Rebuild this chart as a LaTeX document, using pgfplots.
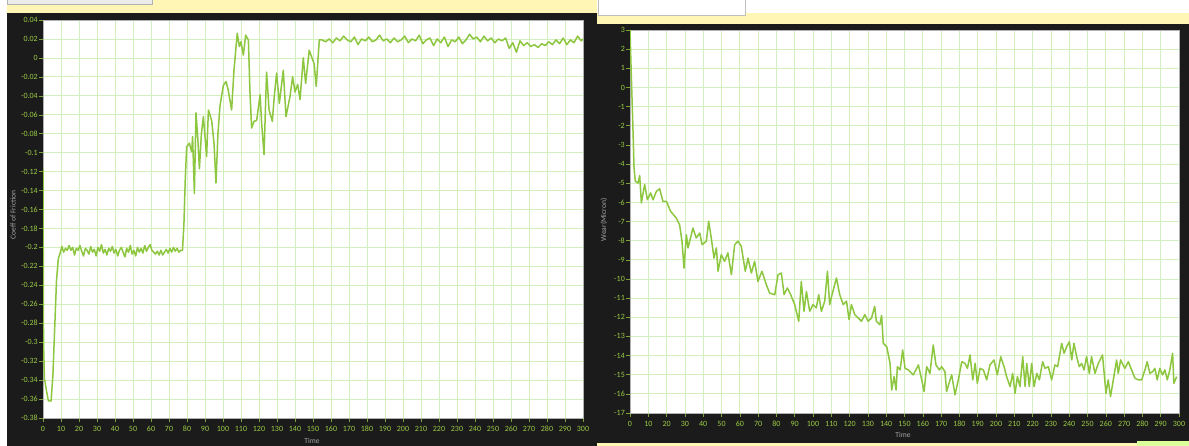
\documentclass[border=0pt]{standalone}
\usepackage{fontspec}
\setmainfont{Carlito}
\usepackage{pgfplots}
\pgfplotsset{compat=1.18}
\definecolor{darkbg}{HTML}{1B1B1B}
\definecolor{gridg}{HTML}{D3EFBD}
\definecolor{lineg}{HTML}{8DC63F}
\definecolor{labg}{HTML}{9BCB45}
\definecolor{pyellow}{HTML}{FFF6B6}
\pgfplotsset{
  panel/.style={
    scale only axis, anchor=north west,
    xmin=0, xmax=300,
    xtick={0,10,...,300},
    grid=major,
    major grid style={draw=gridg, line width=0.8pt},
    axis background/.style={fill=white},
    axis line style={draw=gray!60, line width=0.8pt},
    tick pos=left,
    tick align=outside, major tick length=4pt,
    tick style={draw=labg!80!black, line width=0.5pt},
    every tick label/.append style={text=labg, font=\fontsize{8}{9}\selectfont},
    yticklabel style={inner sep=1pt},
    xticklabel style={inner sep=1.5pt, text height=1.6ex, text depth=0pt},
    /pgf/number format/assume math mode=true,
  },
  wline/.style={draw=lineg, line width=1.5pt, line join=round, mark=none},
}
\begin{document}
\begin{tikzpicture}
% background decoration (y downward in px = pt)
\fill[white] (0pt,0pt) rectangle (1189pt,-446pt);
\fill[pyellow] (7pt,0pt) rectangle (597pt,-13pt);
\filldraw[fill=gray!15, draw=gray!60] (7pt,2pt) rectangle (152pt,-4pt);
\fill[pyellow] (597pt,-13pt) rectangle (1189pt,-24pt);
\filldraw[fill=white, draw=gray!50] (598pt,2pt) rectangle (745pt,-15pt);
\fill[darkbg] (7pt,-13pt) rectangle (597pt,-446pt);
\fill[darkbg] (597pt,-24pt) rectangle (1189pt,-443pt);
\fill[pyellow] (597pt,-443pt) rectangle (1189pt,-446pt);
\fill[green!35!yellow!40] (1137pt,-441pt) rectangle (1189pt,-446pt);

% left panel
\begin{axis}[panel, at={(43pt,-20pt)}, width=540pt, height=398pt,
  ymin=-0.38, ymax=0.04,
  ytick={-0.38,-0.36,-0.34,-0.32,-0.3,-0.28,-0.26,-0.24,-0.22,-0.2,-0.18,-0.16,-0.14,-0.12,-0.1,-0.08,-0.06,-0.04,-0.02,0,0.02,0.04},
  yticklabels={-0.38,-0.36,-0.34,-0.32,-0.3,-0.28,-0.26,-0.24,-0.22,-0.2,-0.18,-0.16,-0.14,-0.12,-0.1,-0.08,-0.06,-0.04,-0.02,0,0.02,0.04},
]
\addplot[wline] coordinates {
(0,-0.118) (0.3,-0.30) (0.8,-0.338) (2,-0.352) (3,-0.362) (4.5,-0.362) (5.5,-0.335) (6.5,-0.285) (7.5,-0.235)
(8.5,-0.212) (9.5,-0.206) (10.5,-0.199) (11.5,-0.205) (12.5,-0.201) (13.5,-0.203) (14.5,-0.198) (15.5,-0.203)
(16.5,-0.200) (17.5,-0.208) (18.5,-0.201) (19.5,-0.203) (20.5,-0.198) (21.5,-0.204) (22.5,-0.209) (23.5,-0.201)
(24.5,-0.203) (25.5,-0.207) (26.5,-0.199) (27.5,-0.205) (28.5,-0.202) (29.5,-0.209) (30.5,-0.200) (31.5,-0.204)
(32.5,-0.197) (33.5,-0.206) (34.5,-0.202) (35.5,-0.208) (36.5,-0.201) (37.5,-0.204) (38.5,-0.199) (39.5,-0.206)
(40.5,-0.202) (41.5,-0.209) (42.5,-0.203) (43.5,-0.200) (44.5,-0.205) (45.5,-0.210) (46.5,-0.201) (47.5,-0.205)
(48.5,-0.198) (49.5,-0.207) (50.5,-0.203) (51.5,-0.209) (52.5,-0.200) (53.5,-0.205) (54.5,-0.201) (55.5,-0.206)
(56.5,-0.198) (57.5,-0.204) (58.5,-0.200) (59.5,-0.197) (60.5,-0.203) (61.5,-0.205) (62.5,-0.207) (63.5,-0.204)
(64.5,-0.208) (65.5,-0.203) (66.5,-0.208) (67.5,-0.205) (68.5,-0.202) (69.5,-0.206) (70.5,-0.201) (71.5,-0.205)
(72.5,-0.200) (73.5,-0.204) (74.5,-0.201) (75.5,-0.205) (76.5,-0.203) (77.5,-0.203) (78.3,-0.175) (79,-0.13)
(79.8,-0.094) (81.3,-0.090) (82.6,-0.099) (83.1,-0.083) (84.1,-0.143) (85,-0.058) (86,-0.085) (86.9,-0.117)
(88,-0.080) (89.1,-0.062) (90.9,-0.104) (91.9,-0.055) (93.7,-0.066) (95,-0.090) (96.1,-0.132) (97.2,-0.080)
(98.3,-0.051) (100.2,-0.029) (101.7,-0.025) (102.9,-0.034) (104.8,-0.055) (106.1,-0.013) (107.9,0.026)
(109.1,0.012) (110,0.017) (111.3,0.003) (112.6,0.024) (114.1,0.019) (115,-0.037) (115.9,-0.074) (117.2,-0.067)
(118.7,-0.066) (120.6,-0.039) (121.5,-0.070) (122.8,-0.102) (124.2,-0.015) (125.6,-0.055) (127.4,-0.067)
(128.5,-0.040) (129.8,-0.016) (131.3,-0.048) (133.5,-0.013) (135,-0.062) (137.2,-0.041) (138.7,-0.020)
(140,-0.036) (141.5,-0.028) (142.8,-0.044) (144.6,0.000) (145.9,-0.027) (147.9,0.008) (150.6,-0.006)
(151.8,-0.030) (153.5,0.019)
(155,0.019) (157,0.017) (159,0.020) (161,0.016) (163,0.021) (165,0.018) (167,0.023) (169,0.019) (171,0.017)
(173,0.022) (175,0.014) (177,0.020) (179,0.018) (181,0.022) (183,0.017) (185,0.019) (187,0.024) (189,0.018)
(191,0.020) (193,0.016) (195,0.021) (197,0.017) (199,0.019) (201,0.023) (203,0.016) (205,0.020) (207,0.018)
(209,0.024) (211,0.015) (213,0.019) (215,0.021) (217,0.013) (219,0.020) (221,0.016) (223,0.022) (225,0.012)
(227,0.019) (229,0.017) (231,0.022) (233,0.015) (235,0.019) (237,0.025) (239,0.020) (241,0.022) (243,0.017)
(245,0.023) (247,0.018) (249,0.021) (251,0.016) (253,0.020) (255,0.018) (257,0.021) (259,0.010) (261,0.016)
(263,0.006) (265,0.018) (267,0.013) (269,0.016) (271,0.012) (273,0.014) (275,0.011) (277,0.015) (279,0.013)
(281,0.017) (283,0.014) (285,0.019) (287,0.015) (289,0.021) (291,0.014) (293,0.019) (295,0.016) (297,0.023)
(299,0.018) (300,0.020)
};
\end{axis}

% right panel
\begin{axis}[panel, at={(630pt,-30pt)}, width=549pt, height=383pt,
  ymin=-17, ymax=3,
  ytick={-17,-16,...,3},
  yticklabels={-17,-16,-15,-14,-13,-12,-11,-10,-9,-8,-7,-6,-5,-4,-3,-2,-1,0,1,2,3},
]
\addplot[wline] coordinates {
(0,3) (0.7,0.67) (1.6,-2.1) (2.2,-4.2) (2.9,-4.9) (4.4,-4.99) (5.3,-4.6) (6.2,-6.03) (8,-5.07) (9.5,-5.86)
(11.3,-5.51) (12.6,-5.87) (14.4,-5.43) (16.2,-5.29) (18,-5.95) (19.9,-5.95) (22.2,-6.47) (25.3,-6.82)
(27.1,-7.17) (28.4,-8.03) (29.5,-9.43) (30.8,-7.69) (31.7,-8.38) (34.4,-7.34) (36.2,-7.86) (38.1,-7.6)
(39.4,-8.21) (41.7,-8.03) (43,-6.99) (44.4,-7.86) (45.9,-8.91) (47.2,-8.38) (48.1,-9.6) (49.9,-8.73)
(51.7,-9.08) (53.5,-8.64) (55.4,-9.78) (57.2,-8.21) (59,-8.03) (60.8,-8.29) (63,-9.6) (64.5,-8.91)
(66.3,-9.69) (68.1,-9.08) (69.9,-10.13) (72.1,-9.6) (74.5,-10.3) (76.3,-10.74) (79.1,-10.82) (80.9,-9.78)
(82.7,-9.69) (84.2,-10.82) (86,-10.47) (87.8,-10.82) (90,-11.34) (92.2,-12.21) (93.6,-10.13) (95.1,-11.69)
(96.4,-10.65) (98.2,-11.69) (100,-11.34) (101.8,-11.51) (103.1,-10.82) (104.6,-11.69) (106.4,-11.16)
(107.9,-9.6) (109.1,-11.34) (110.4,-10.82) (112.8,-9.95) (114.6,-10.82) (116.5,-11.34) (118.3,-11.16)
(119.7,-12.12) (121,-11.34) (122.8,-11.86) (124.7,-12.04) (126.5,-12.21) (128.3,-11.86) (130.1,-12.21)
(132,-12.04) (133.7,-11.43) (134.6,-12.21) (136.5,-12.39) (137.5,-11.9) (138.4,-13.36) (140.3,-13.54)
(142.1,-14.4) (143,-15.8) (144.3,-15.1) (145.4,-15.8) (146.1,-14.58) (147.6,-14.75) (149,-13.71)
(150.3,-14.67) (152.1,-14.75) (154.8,-15.01) (157.6,-14.49) (159.4,-15.27) (160.7,-15.88) (162.1,-14.58)
(163.9,-14.93) (165.7,-13.45) (167.2,-14.49) (169,-14.75) (170.3,-14.58) (172.1,-14.84) (173,-15.88)
(174.9,-15.27) (175.8,-15.01) (177.6,-16.05) (179.4,-15.27) (181.3,-14.32) (183.1,-14.41) (184.4,-14.67)
(185.8,-13.97) (187.3,-15.27) (188.6,-14.41) (189.8,-15.45) (191.3,-14.67) (193.1,-14.75) (194.9,-15.27)
(196.7,-14.49) (198.9,-14.23) (200.7,-15.01) (202.6,-14.06) (204.4,-14.58) (205.8,-15.10) (207.7,-15.62)
(209.1,-14.93) (210.4,-15.97) (211.7,-15.10) (213.1,-15.62) (214.6,-14.06) (215.9,-15.62) (216.8,-14.41)
(218.2,-15.62) (219.5,-14.41) (220.8,-15.62) (222.3,-14.93) (223.7,-15.27) (225.5,-14.32) (226.8,-14.67)
(228.6,-14.58) (230.4,-15.27) (232.2,-14.49) (233.7,-14.58) (235.9,-13.36) (237.2,-13.88) (238.6,-13.54)
(240.1,-13.28) (241.4,-14.23) (242.6,-13.36) (244.1,-14.06) (245.5,-14.58) (246.8,-14.41) (248.1,-14.75)
(249.5,-14.06) (251,-14.93) (252.2,-14.06) (254.1,-14.93) (255.9,-14.41) (258.2,-13.97) (260.1,-15.97)
(261.3,-15.27) (262.6,-16.14) (264.1,-15.27) (265.9,-14.23) (266.8,-14.93) (268.1,-14.23) (270.4,-14.67)
(272.3,-14.32) (274.1,-14.75) (275.9,-15.18) (277.7,-15.27) (279.6,-15.27) (281.4,-14.75) (282.6,-14.32)
(284.1,-14.93) (285.6,-14.84) (286.8,-14.67) (288.1,-15.27) (289.5,-14.67) (291,-15.01) (292.3,-14.75)
(293.6,-15.27) (295,-14.75) (296.5,-13.88) (297.2,-15.45) (298.7,-15.10)
};
\end{axis}

% axis titles
\node[rotate=90, text=gray!70, font=\fontsize{7.5}{8}\selectfont] at (13pt,-215pt) {Coeff of Friction};
\node[text=gray!70, font=\fontsize{7.5}{8}\selectfont] at (312pt,-441pt) {Time};
\node[rotate=90, text=gray!70, font=\fontsize{7.5}{8}\selectfont] at (604pt,-220pt) {Wear(Micron)};
\node[text=gray!70, font=\fontsize{7.5}{8}\selectfont] at (903pt,-435pt) {Time};

\pgfresetboundingbox
\useasboundingbox (0pt,0pt) rectangle (1189pt,-446pt);
\end{tikzpicture}
\end{document}
